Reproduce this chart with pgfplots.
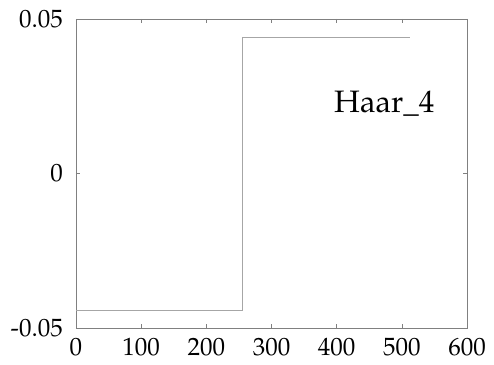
\documentclass[border=0pt]{standalone}
\usepackage[T1]{fontenc}
\usepackage{mathpazo}
\usepackage{pgfplots}
\pgfplotsset{compat=1.18}
\begin{document}
\fontsize{24}{28}\selectfont
\begin{tikzpicture}
\begin{axis}[
  scale only axis,
  width=391pt, height=309pt,
  xmin=0, xmax=600, ymin=-0.05, ymax=0.05,
  scaled y ticks=false,
  scaled x ticks=false,
  /pgf/number format/assume math mode=true,
  xtick={0,100,200,300,400,500,600},
  xticklabels={0,100,200,300,400,500,600},
  ytick={-0.05,0,0.05},
  yticklabels={-0.05,0,0.05},
  tick align=inside,
  major tick length=4pt,
  axis line style={draw=black!50, line width=0.8pt},
  every tick/.style={draw=black!50, line width=0.6pt},
  tick label style={font=\fontsize{25}{29}\selectfont},
  xticklabel style={yshift=-2pt},
  yticklabel style={xshift=-5pt},
]
\addplot[const plot, draw=black!35, line width=0.8pt] coordinates {
 (0,-0.04419) (256,0.04419) (512,0.04419)
};
\node[anchor=base, font=\fontsize{31}{36}\selectfont] at (axis cs:473,0.0199) {Haar\_4};
\end{axis}
\path (current axis.south west) ++(-76pt,-34pt) coordinate (bl);
\path (current axis.north east) ++(27pt,19pt) coordinate (tr);
\useasboundingbox (bl) rectangle (tr);
\end{tikzpicture}
\end{document}
